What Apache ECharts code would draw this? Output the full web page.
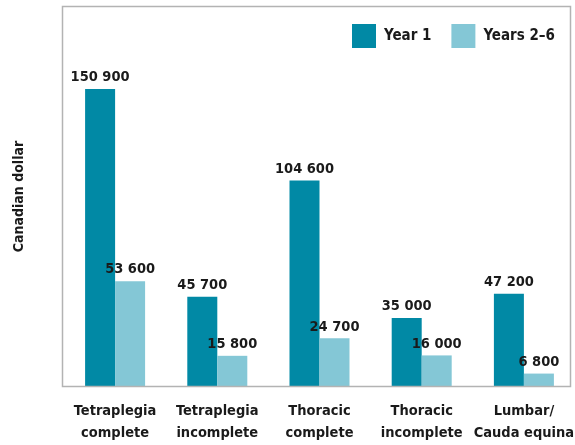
<!DOCTYPE html>
<html>
<head>
<meta charset="utf-8">
<script src="https://cdn.jsdelivr.net/npm/echarts@6/dist/echarts.min.js"></script>
<style>
  html, body { margin: 0; padding: 0; background: #fff; }
  #chart { width: 575px; height: 445px; }
</style>
</head>
<body>
<div id="chart"></div>
<script>
  var categories = ['Tetraplegia\ncomplete', 'Tetraplegia\nincomplete', 'Thoracic\ncomplete', 'Thoracic\nincomplete', 'Lumbar/\nCauda equina']
  var year1 = [150900, 45700, 104600, 35000, 47200]
  var years2to6 = [53600, 15800, 24700, 16000, 6800]

  var font = '"DejaVu Sans Condensed", Roboto, sans-serif'

  function fmt(p) {
    return String(p.value).replace(/\B(?=(\d{3})+(?!\d))/g, ' ')
  }

  var chart = echarts.init(document.getElementById('chart'))
  chart.setOption({
    animation: false,
    textStyle: { fontFamily: font },
    graphic: [{
      type: 'rect',
      shape: { x: 62.5, y: 6.5, width: 508, height: 380 },
      style: { fill: 'none', stroke: '#b3b3b3', lineWidth: 1.5 },
      z: 10
    }],
    legend: {
      top: 24,
      left: 352,
      padding: 0,
      itemWidth: 24,
      itemHeight: 24,
      itemGap: 20,
      icon: 'rect',
      textStyle: { fontFamily: font, fontWeight: 'bold', fontSize: 15, color: '#1a1a1a', padding: [0, 0, 0, 3] },
      data: ['Year 1', 'Years 2–6']
    },
    grid: { left: 64, right: 0, top: 6, bottom: 58, outerBoundsMode: 'none' },
    xAxis: {
      type: 'category',
      data: categories,
      axisLine: { show: false },
      axisTick: { show: false },
      axisLabel: {
        interval: 0,
        margin: 13,
        fontFamily: font,
        fontWeight: 'bold',
        fontSize: 14.5,
        lineHeight: 22,
        color: '#1a1a1a'
      }
    },
    yAxis: {
      type: 'value',
      min: 0,
      max: 193000,
      name: 'Canadian dollar',
      nameLocation: 'middle',
      nameGap: 38,
      nameTextStyle: { fontFamily: font, fontWeight: 'bold', fontSize: 14, color: '#1a1a1a' },
      axisLine: { show: false },
      axisTick: { show: false },
      axisLabel: { show: false },
      splitLine: { show: false }
    },
    series: [{
      name: 'Year 1',
      type: 'bar',
      data: year1,
      barWidth: 30,
      barGap: '0%',
      itemStyle: { color: '#0189a5' },
      label: {
        show: true, position: 'top', distance: 4, formatter: fmt,
        fontFamily: font, fontWeight: 'bold', fontSize: 14.5, color: '#1a1a1a'
      }
    }, {
      name: 'Years 2–6',
      type: 'bar',
      data: years2to6,
      barWidth: 30,
      barGap: '0%',
      itemStyle: { color: '#84c7d6' },
      label: {
        show: true, position: 'top', distance: 4, formatter: fmt,
        fontFamily: font, fontWeight: 'bold', fontSize: 14.5, color: '#1a1a1a'
      }
    }]
  })
</script>
</body>
</html>
